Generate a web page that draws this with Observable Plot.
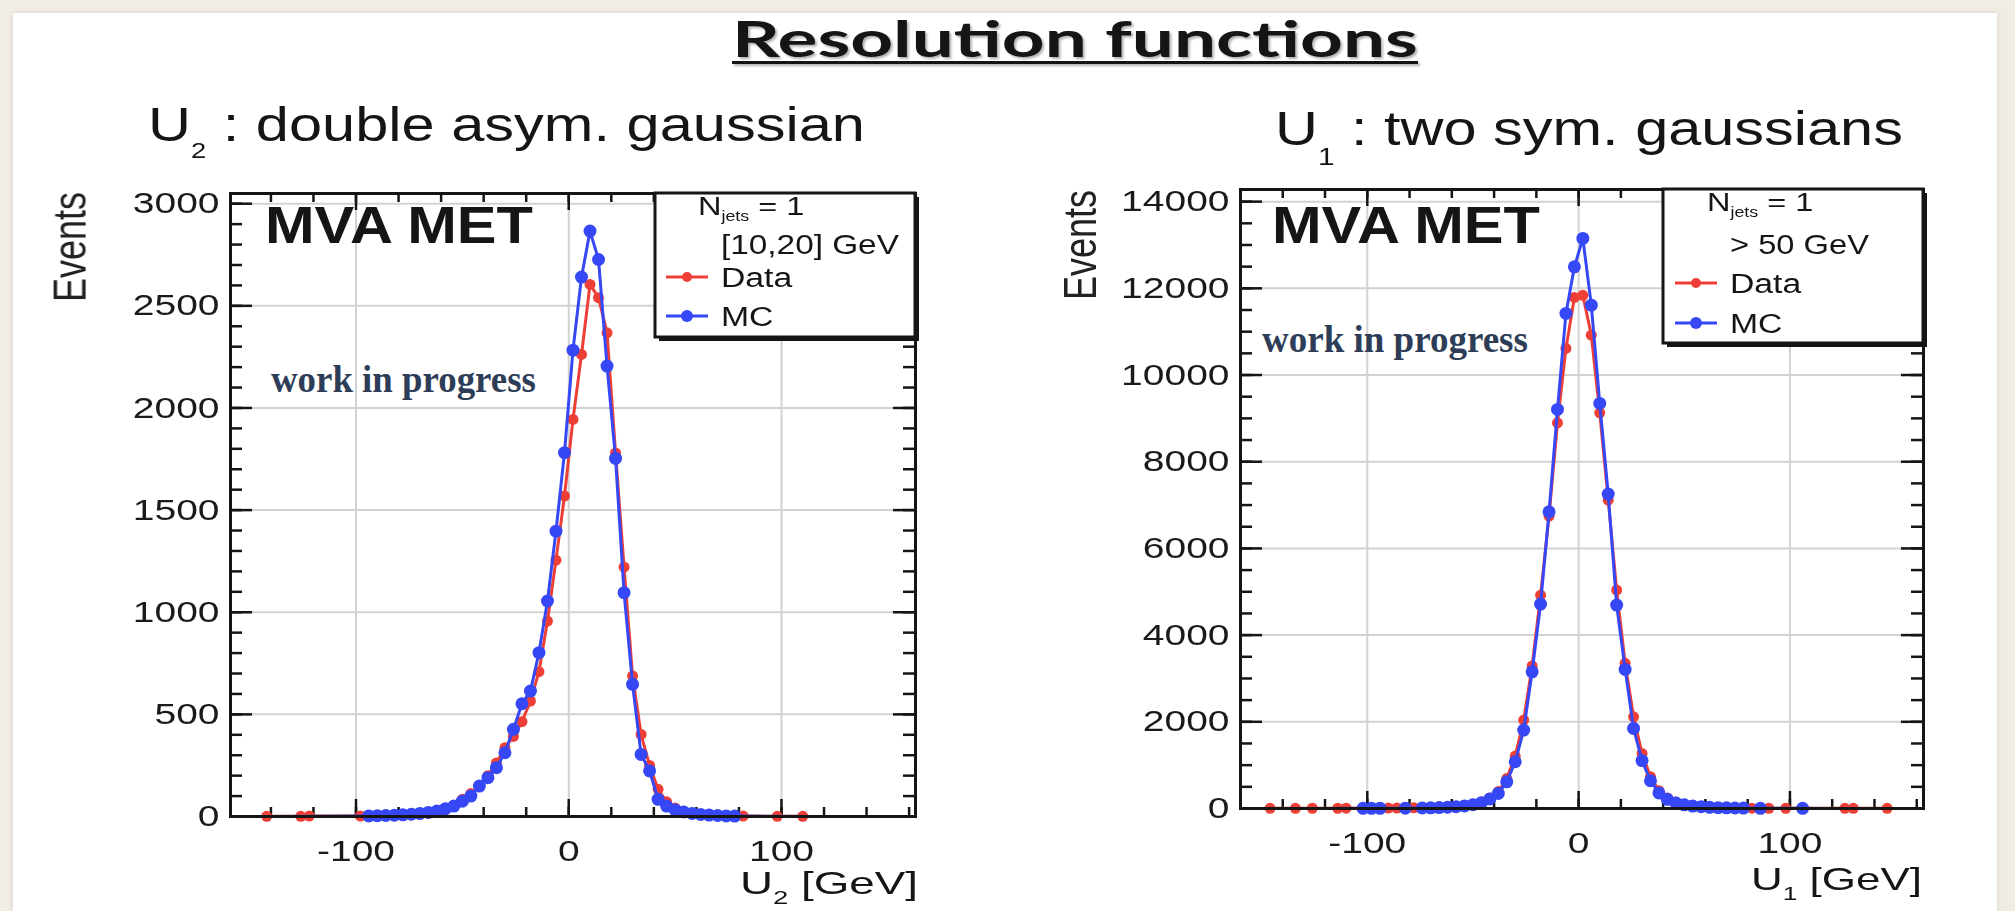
<!DOCTYPE html>
<html>
<head>
<meta charset="utf-8">
<script src="https://cdn.jsdelivr.net/npm/d3@7"></script>
<script src="https://cdn.jsdelivr.net/npm/@observablehq/plot@0.6"></script>
<style>
  html, body { margin: 0; padding: 0; }
  body { width: 2015px; height: 911px; background: #f1ece4; position: relative; overflow: hidden; }
  #slide { position: absolute; left: 13px; top: 13px; width: 1984px; height: 910px; background: #fff;
           box-shadow: 0 0 5px rgba(0,0,0,0.12); }
  .panel { position: absolute; top: 0; filter: blur(0.6px); }
  #overlay { position: absolute; left: 0; top: 0; }
</style>
</head>
<body>
<div id="slide"></div>
<div id="u2" class="panel" style="left:0px"></div>
<div id="u1" class="panel" style="left:960px"></div>
<svg id="overlay" width="2015" height="911"></svg>
<script>
// ---- Recoil resolution, N_jets = 1 : U2 component, pT in [10,20] GeV ----
const u2DataX = [-142, -126, -122, -98, -94, -90, -86, -82, -78, -74, -70, -66, -62, -58, -54, -50, -46, -42, -38, -34, -30, -26, -22, -18, -14, -10, -6, -2,
                 2, 6, 10, 14, 18, 22, 26, 30, 34, 38, 42, 46, 50, 54, 58, 62, 66, 70, 74, 78, 82, 98, 110];
const u2DataY = [1, 1, 2, 2, 3, 3, 4, 5, 6, 8, 11, 16, 22, 32, 52, 84, 112, 150, 200, 262, 337, 392, 464, 565, 709, 957, 1255, 1569,
                 1944, 2262, 2605, 2540, 2368, 1780, 1221, 688, 402, 250, 133, 72, 42, 26, 17, 11, 8, 6, 4, 3, 2, 1, 1];
const u2McX = [-138, -94, -90, -86, -82, -78, -74, -70, -66, -62, -58, -54, -50, -46, -42, -38, -34, -30, -26, -22, -18, -14, -10, -6, -2,
               2, 6, 10, 14, 18, 22, 26, 30, 34, 38, 42, 46, 50, 54, 58, 62, 66, 70, 74, 78, 118];
const u2McY = [0, 3, 4, 5, 6, 8, 11, 15, 20, 27, 38, 51, 75, 100, 149, 190, 239, 312, 427, 552, 614, 802, 1055, 1397, 1781,
               2283, 2641, 2866, 2727, 2205, 1753, 1096, 647, 304, 223, 84, 51, 32, 22, 15, 10, 7, 5, 3, 2, 0];

// ---- Recoil resolution, N_jets = 1 : U1 component, pT > 50 GeV ----
const u1DataX = [-146, -134, -126, -114, -110, -102, -98, -94, -90, -86, -82, -78, -74, -70, -66, -62, -58, -54, -50, -46, -42, -38, -34, -30, -26, -22, -18, -14, -10, -6, -2,
                 2, 6, 10, 14, 18, 22, 26, 30, 34, 38, 42, 46, 50, 54, 58, 62, 66, 70, 74, 78, 82, 90, 98, 126, 130, 146];
const u1DataY = [4, 5, 6, 6, 8, 5, 6, 7, 9, 10, 12, 15, 18, 22, 28, 38, 50, 70, 100, 150, 245, 390, 690, 1210, 2039, 3290, 4922, 6745, 8897, 10613, 11790,
                 11840, 10920, 9128, 7114, 5038, 3350, 2115, 1271, 735, 410, 245, 150, 98, 66, 46, 33, 24, 17, 13, 10, 8, 6, 5, 5, 4, 3];
const u1McX = [-118, -102, -98, -94, -82, -74, -70, -66, -62, -58, -54, -50, -46, -42, -38, -34, -30, -26, -22, -18, -14, -10, -6, -2,
               2, 6, 10, 14, 18, 22, 26, 30, 34, 38, 42, 46, 50, 54, 58, 62, 66, 70, 74, 78, 86, 106, 114];
const u1McY = [0, 3, 4, 5, 8, 12, 16, 22, 30, 42, 60, 88, 135, 220, 348, 616, 1078, 1809, 3154, 4715, 6845, 9206, 11421, 12496,
               13151, 11612, 9345, 7253, 4692, 3209, 1848, 1105, 640, 360, 212, 128, 84, 57, 40, 28, 20, 15, 11, 9, 5, 3, 0];

// ---- axis ticks ----
const xMajorTicks = [-100, 0, 100];
const xMinorTicks = d3.range(-140, 161, 20);
const u2YTicks = [0, 500, 1000, 1500, 2000, 2500, 3000];
const u2YMinor = d3.range(100, 3001, 100);
const u1YTicks = [0, 2000, 4000, 6000, 8000, 10000, 12000, 14000];
const u1YMinor = d3.range(500, 14001, 500);

const RED = "#ee3f36", BLUE = "#3647f5", INK = "#151515";

// ROOT-style histogram panel: framed, gridded, ticks mirrored on all four sides
function panel(o) {
  const data = o.dataX.map((x, i) => ({x, y: o.dataY[i]}));
  const mc = o.mcX.map((x, i) => ({x, y: o.mcY[i]}));
  const fw = o.width - o.ml - o.mr, fh = o.height - o.mt - o.mb;
  const tick = {stroke: INK, strokeWidth: 2.5};
  const svg = Plot.plot({
    width: o.width, height: o.height,
    marginLeft: o.ml, marginRight: o.mr, marginTop: o.mt, marginBottom: o.mb,
    style: {fontFamily: "Liberation Sans", fontSize: "30px", color: "#1a1a1a", background: "transparent", overflow: "visible"},
    x: {domain: o.xDomain, ticks: xMajorTicks, tickSize: 0, tickPadding: 23, tickFormat: d => String(d), label: null},
    y: {domain: o.yDomain, ticks: o.yTicks, tickSize: 0, tickPadding: 11, tickFormat: d => String(d), label: null},
    marks: [
      Plot.ruleX(xMajorTicks, {stroke: "#d2d2d2", strokeWidth: 2}),
      Plot.ruleY(o.yTicks.slice(1), {stroke: "#d2d2d2", strokeWidth: 2}),
      Plot.ruleX(xMinorTicks, {...tick, insetTop: fh - 9}),
      Plot.ruleX(xMinorTicks, {...tick, insetBottom: fh - 9}),
      Plot.ruleX(xMajorTicks, {...tick, insetTop: fh - 17}),
      Plot.ruleX(xMajorTicks, {...tick, insetBottom: fh - 17}),
      Plot.ruleY(o.yMinor, {...tick, insetRight: fw - 12}),
      Plot.ruleY(o.yMinor, {...tick, insetLeft: fw - 12}),
      Plot.ruleY(o.yTicks, {...tick, insetRight: fw - 22}),
      Plot.ruleY(o.yTicks, {...tick, insetLeft: fw - 22}),
      Plot.line(data, {x: "x", y: "y", stroke: RED, strokeWidth: 3}),
      Plot.dot(data.filter(d => d.y > 0), {x: "x", y: "y", r: 5.5, fill: RED}),
      Plot.line(mc, {x: "x", y: "y", stroke: BLUE, strokeWidth: 3}),
      Plot.dot(mc.filter(d => d.y > 0), {x: "x", y: "y", r: 6.5, fill: BLUE}),
      Plot.frame({stroke: INK, strokeWidth: 3})
    ]
  });
  // widen tick labels horizontally about their anchor (stretched Helvetica look of the canvas)
  svg.querySelectorAll('g[aria-label*="axis"] text').forEach(t => {
    const x = parseFloat(t.getAttribute("x")) || 0;
    const tr = t.getAttribute("transform") || "";
    t.setAttribute("transform", `${tr} translate(${x},0) scale(1.3,1) translate(${-x},0)`);
  });
  return svg;
}

document.getElementById("u2").append(panel({
  dataX: u2DataX, dataY: u2DataY, mcX: u2McX, mcY: u2McY,
  xDomain: [-159, 163], yDomain: [0, 3050], yTicks: u2YTicks, yMinor: u2YMinor,
  width: 960, height: 911, ml: 230, mr: 45, mt: 193, mb: 95
}));
document.getElementById("u1").append(panel({
  dataX: u1DataX, dataY: u1DataY, mcX: u1McX, mcY: u1McY,
  xDomain: [-160, 163.2], yDomain: [0, 14280], yTicks: u1YTicks, yMinor: u1YMinor,
  width: 1055, height: 911, ml: 280, mr: 92, mt: 189, mb: 103
}));

// ---- text and legends drawn on top ----
const ov = d3.select("#overlay");

function addText(g, o) {
  const t = g.append("text").attr("x", o.x).attr("y", o.y)
    .attr("font-family", o.font || "Liberation Sans").attr("font-size", o.size)
    .attr("font-weight", o.weight || 400).attr("fill", o.fill || INK)
    .attr("text-anchor", o.anchor || "start");
  let shift = 0;
  for (const p of o.parts) {
    const s = t.append("tspan").text(p.t);
    const want = p.sub ? o.size * (o.subDy || 0.33) : 0;
    if (want !== shift) { s.attr("dy", want - shift); shift = want; }
    if (p.sub) s.attr("font-size", o.size * (o.subSize || 0.55));
  }
  const w = t.node().getComputedTextLength();
  const k = o.width ? o.width / w : (o.sx || 1);
  t.attr("transform", `translate(${o.x},0) scale(${k},1) translate(${-o.x},0)`);
  return t;
}

// slide heading
const head = ov.append("g").style("filter", "drop-shadow(2px 2px 1px rgba(0,0,0,0.3))");
addText(head, {x: 732, y: 57, parts: [{t: "Resolution functions"}], font: "Lato", size: 50, weight: 700, width: 686});
head.append("rect").attr("x", 732).attr("y", 61).attr("width", 686).attr("height", 3).attr("fill", INK);

// panel headings
const heads = ov.append("g").style("filter", "blur(0.4px)");
addText(heads, {x: 148, y: 141, size: 48, width: 717, subDy: 0.35, subSize: 0.46,
  parts: [{t: "U"}, {t: "2", sub: true}, {t: " : double asym. gaussian"}]});
addText(heads, {x: 1275, y: 145, size: 48, width: 628, subDy: 0.42, subSize: 0.5,
  parts: [{t: "U"}, {t: "1", sub: true}, {t: " : two sym. gaussians"}]});

// texts belonging to the ROOT canvases
const canvas = ov.append("g").style("filter", "blur(0.6px)");

function legend(g, L) {
  g.append("rect").attr("x", L.x + 4).attr("y", L.y + 4).attr("width", L.w).attr("height", L.h).attr("fill", INK);
  g.append("rect").attr("x", L.x).attr("y", L.y).attr("width", L.w).attr("height", L.h)
    .attr("fill", "#fff").attr("stroke", INK).attr("stroke-width", 3);
  addText(g, {x: L.tx - 23, y: L.rows[0], size: 26, sx: 1.25, subDy: 0.25, subSize: 0.55,
    parts: [{t: "N"}, {t: "jets", sub: true}, {t: " = 1"}]});
  addText(g, {x: L.tx, y: L.rows[1], size: 27, width: L.binW, parts: [{t: L.bin}]});
  [["Data", RED, 5], ["MC", BLUE, 6]].forEach(([name, c, r], i) => {
    const y = L.rows[2 + i];
    g.append("line").attr("x1", L.tx - 55).attr("x2", L.tx - 13).attr("y1", y - 10).attr("y2", y - 10)
      .attr("stroke", c).attr("stroke-width", 3);
    g.append("circle").attr("cx", L.tx - 34).attr("cy", y - 10).attr("r", r).attr("fill", c);
    addText(g, {x: L.tx, y, size: 27, sx: 1.25, parts: [{t: name}]});
  });
}

// left canvas
addText(canvas, {x: 265, y: 243, size: 52, weight: 700, width: 268, parts: [{t: "MVA MET"}]});
legend(canvas, {x: 655, y: 193, w: 260, h: 144, tx: 721, rows: [215, 254, 287, 326], bin: "[10,20] GeV", binW: 178});
canvas.append("text").attr("transform", "translate(86,192) scale(1.3,1) rotate(-90)")
  .attr("text-anchor", "end").attr("font-family", "Liberation Sans").attr("font-size", 36).attr("fill", "#222").text("Events");
addText(canvas, {x: 918, y: 894, anchor: "end", size: 32, width: 178, subDy: 0.3, subSize: 0.6,
  parts: [{t: "U"}, {t: "2", sub: true}, {t: " [GeV]"}]});

// right canvas
addText(canvas, {x: 1272, y: 243, size: 52, weight: 700, width: 268, parts: [{t: "MVA MET"}]});
legend(canvas, {x: 1663, y: 189, w: 260, h: 154, tx: 1730, rows: [211, 254, 293, 333], bin: "> 50 GeV", binW: 139});
canvas.append("text").attr("transform", "translate(1096,190) scale(1.3,1) rotate(-90)")
  .attr("text-anchor", "end").attr("font-family", "Liberation Sans").attr("font-size", 36).attr("fill", "#222").text("Events");
addText(canvas, {x: 1922, y: 890, anchor: "end", size: 32, width: 171, subDy: 0.3, subSize: 0.6,
  parts: [{t: "U"}, {t: "1", sub: true}, {t: " [GeV]"}]});

// status stamps
const stamp = {font: "Liberation Serif", size: 37, weight: 700, fill: "#2e3d57", parts: [{t: "work in progress"}]};
addText(ov, {...stamp, x: 271, y: 392, width: 265});
addText(ov, {...stamp, x: 1262, y: 352, width: 266});
</script>
</body>
</html>
